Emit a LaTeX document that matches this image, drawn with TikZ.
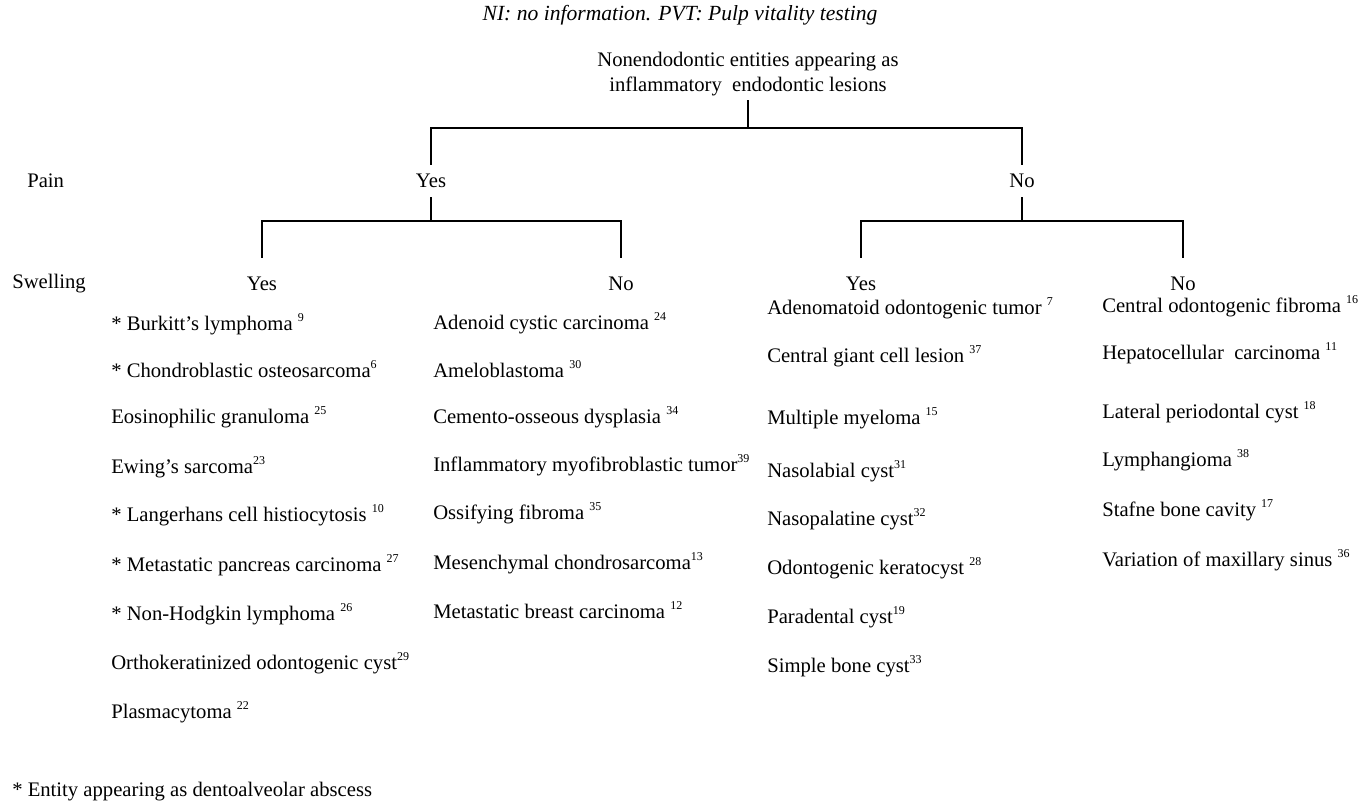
\documentclass[tikz,border=0pt]{standalone}
\usepackage{fontspec}
\setmainfont{Liberation Serif}
\usepackage{tikz}

\newcommand{\refn}[1]{\raisebox{0.42em}{\fontsize{9}{9}\selectfont #1}}

\tikzset{
  txt/.style={inner sep=0pt, font=\fontsize{15.5}{18.5}\selectfont},
  item/.style={txt, anchor=west},
  lvlone/.style={txt, minimum height=24pt},
  lvltwo/.style={txt, minimum height=39pt},
}

\begin{document}
\begin{tikzpicture}[x=0.75pt,y=0.75pt,yscale=-1,xscale=1]
\useasboundingbox (0,0) rectangle (1359,803);

%Text Node (caption)
\node (cap) [txt, font=\fontsize{16.2}{19}\selectfont\itshape] at (680,15) {NI: no information. PVT: Pulp vitality testing};
%Text Node (root)
\node (root) [txt, align=center, inner ysep=3pt] at (748,74) {Nonendodontic entities appearing as\\inflammatory\ \ endodontic lesions};

%Row labels
\node (pain) [txt, anchor=west] at (27,181) {Pain};
\node (swell) [txt, anchor=west] at (12,284) {Swelling};

%First split
\node (py) [lvlone] at (431,181) {Yes};
\node (pn) [lvlone] at (1022,181) {No};
\coordinate (j0) at (748,128);
\draw [line width=0.9pt] (root.south) -- (j0);
\draw [line width=0.9pt] (py.north) |- (j0) -| (pn.north);

%Second split
\node (pysy) [lvltwo] at (262,284) {Yes};
\node (pysn) [lvltwo] at (621,284) {No};
\node (pnsy) [lvltwo] at (861,284) {Yes};
\node (pnsn) [lvltwo] at (1183,284) {No};
\coordinate (j1) at (431,221);
\coordinate (j2) at (1022,221);
\draw [line width=0.9pt] (py.south) -- (j1);
\draw [line width=0.9pt] (pysy.north) |- (j1) -| (pysn.north);
\draw [line width=0.9pt] (pn.south) -- (j2);
\draw [line width=0.9pt] (pnsy.north) |- (j2) -| (pnsn.north);

%Pain yes, swelling yes
\node (a1) [item] at (111,324) {* Burkitt’s lymphoma \refn{9}};
\node (a2) [item] at (111,369) {* Chondroblastic osteosarcoma\refn{6}};
\node (a3) [item] at (111,417) {Eosinophilic granuloma \refn{25}};
\node (a4) [item] at (111,467) {Ewing’s sarcoma\refn{23}};
\node (a5) [item] at (111,515) {* Langerhans cell histiocytosis \refn{10}};
\node (a6) [item] at (111,565) {* Metastatic pancreas carcinoma \refn{27}};
\node (a7) [item] at (111,614) {* Non-Hodgkin lymphoma \refn{26}};
\node (a8) [item] at (111,663) {Orthokeratinized odontogenic cyst\refn{29}};
\node (a9) [item] at (111,712) {Plasmacytoma \refn{22}};

%Pain yes, swelling no
\node (b1) [item] at (433,323) {Adenoid cystic carcinoma \refn{24}};
\node (b2) [item] at (433,369) {Ameloblastoma \refn{30}};
\node (b3) [item] at (433,417) {Cemento-osseous dysplasia \refn{34}};
\node (b4) [item] at (433,465) {Inflammatory myofibroblastic tumor\refn{39}};
\node (b5) [item] at (433,513) {Ossifying fibroma \refn{35}};
\node (b6) [item] at (433,563) {Mesenchymal chondrosarcoma\refn{13}};
\node (b7) [item] at (433,610) {Metastatic breast carcinoma \refn{12}};

%Pain no, swelling yes
\node (c1) [item] at (767,308) {Adenomatoid odontogenic tumor \refn{7}};
\node (c2) [item] at (767,356) {Central giant cell lesion \refn{37}};
\node (c3) [item] at (767,418) {Multiple myeloma \refn{15}};
\node (c4) [item] at (767,471) {Nasolabial cyst\refn{31}};
\node (c5) [item] at (767,519) {Nasopalatine cyst\refn{32}};
\node (c6) [item] at (767,568) {Odontogenic keratocyst \refn{28}};
\node (c7) [item] at (767,617) {Paradental cyst\refn{19}};
\node (c8) [item] at (767,666) {Simple bone cyst\refn{33}};

%Pain no, swelling no
\node (d1) [item] at (1102,306) {Central odontogenic fibroma \refn{16}};
\node (d2) [item] at (1102,353) {Hepatocellular\ \ carcinoma \refn{11}};
\node (d3) [item] at (1102,412) {Lateral periodontal cyst \refn{18}};
\node (d4) [item] at (1102,460) {Lymphangioma \refn{38}};
\node (d5) [item] at (1102,510) {Stafne bone cavity \refn{17}};
\node (d6) [item] at (1102,560) {Variation of maxillary sinus \refn{36}};

%Footnote
\node (note) [item] at (12,792) {* Entity appearing as dentoalveolar abscess};

\end{tikzpicture}
\end{document}
